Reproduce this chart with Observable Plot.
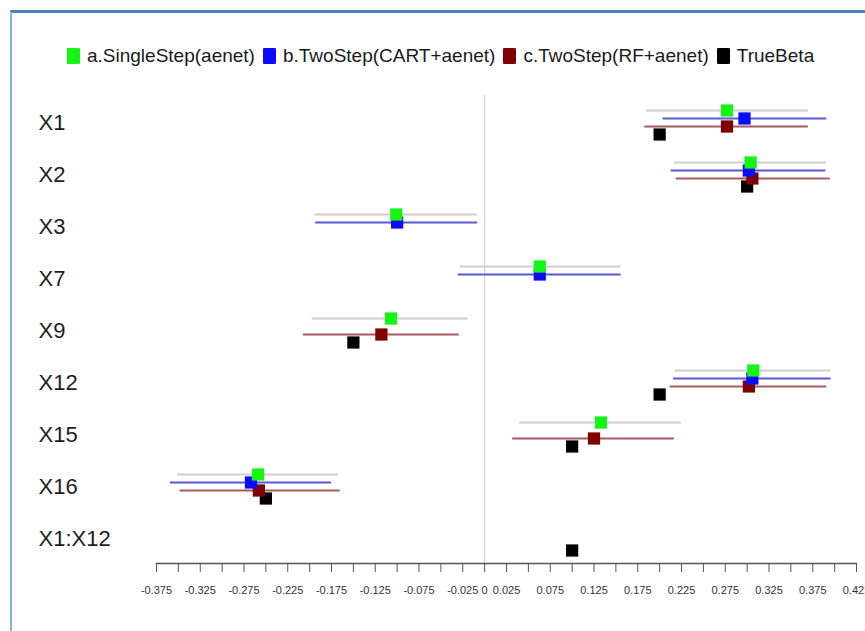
<!DOCTYPE html>
<html>
<head>
<meta charset="utf-8">
<script src="https://cdn.jsdelivr.net/npm/d3@7"></script>
<script src="https://cdn.jsdelivr.net/npm/@observablehq/plot@0.6"></script>
<style>
  html, body { margin: 0; padding: 0; background: #fff; }
  body { width: 865px; height: 631px; overflow: hidden; position: relative; font-family: "Liberation Sans", Arial, sans-serif; }
  #frame { position: absolute; left: 10px; top: 10px; width: 870px; height: 640px;
           border-top: 3px solid #4f81bd; border-left: 2px solid #8db0dc; }
  #legend { position: absolute; left: 67px; top: 45px; display: flex; align-items: center;
            font-size: 19px; color: #1a1a1a; white-space: nowrap; }
  .item { display: flex; align-items: center; margin-right: 8px; }
  .sw { width: 13px; height: 16px; margin-right: 7px; border-radius: 1px; }
  #chart { position: absolute; left: 0; top: 80px; }
  #chart svg { display: block; }
</style>
</head>
<body>
<div id="frame"></div>
<div id="legend"></div>
<div id="chart"></div>
<script>
// ---- data ----
const variables = ["X1", "X2", "X3", "X7", "X9", "X12", "X15", "X16", "X1:X12"];

const methodNames = ["a.SingleStep(aenet)", "b.TwoStep(CART+aenet)", "c.TwoStep(RF+aenet)", "TrueBeta"];

// a.SingleStep(aenet)
const aEst = [0.277, 0.304, -0.101, 0.063, -0.107, 0.307, 0.133, -0.259, null];
const aLo  = [0.185, 0.217, -0.194, -0.028, -0.197, 0.218, 0.040, -0.351, null];
const aHi  = [0.370, 0.391, -0.008, 0.156, -0.019, 0.396, 0.225, -0.167, null];

// b.TwoStep(CART+aenet)
const bEst = [0.297, 0.302, -0.100, 0.063, null, 0.306, null, -0.267, null];
const bLo  = [0.204, 0.213, -0.193, -0.030, null, 0.216, null, -0.359, null];
const bHi  = [0.391, 0.390, -0.008, 0.156, null, 0.396, null, -0.175, null];

// c.TwoStep(RF+aenet)
const cEst = [0.277, 0.306, null, null, -0.118, 0.302, 0.125, -0.258, null];
const cLo  = [0.183, 0.219, null, null, -0.207, 0.212, 0.032, -0.348, null];
const cHi  = [0.370, 0.395, null, null, -0.029, 0.391, 0.217, -0.165, null];

// TrueBeta
const trueBeta = [0.2, 0.3, null, null, -0.15, 0.2, 0.1, -0.25, 0.1];

const xTickLabels = ["-0.375", "-0.325", "-0.275", "-0.225", "-0.175", "-0.125", "-0.075", "-0.025",
                     "0", "0.025", "0.075", "0.125", "0.175", "0.225", "0.275", "0.325", "0.375", "0.425"];

// ---- build tables ----
function rows(est, lo, hi) {
  return variables.map((v, i) => ({variable: v, est: est[i], lo: lo ? lo[i] : null, hi: hi ? hi[i] : null}))
                  .filter(d => d.est != null);
}
const series = [
  {name: methodNames[0], data: rows(aEst, aLo, aHi), line: "#cdcdcd", fill: "#14f514", dy: -12},
  {name: methodNames[1], data: rows(bEst, bLo, bHi), line: "#5858d8", fill: "#0a0aff", dy: -4},
  {name: methodNames[2], data: rows(cEst, cLo, cHi), line: "#a45c5c", fill: "#800000", dy: 4},
  {name: methodNames[3], data: rows(trueBeta), line: null, fill: "#000000", dy: 12}
];

// ---- legend ----
const legend = document.getElementById("legend");
series.forEach(s => {
  const it = document.createElement("div"); it.className = "item";
  const sw = document.createElement("div"); sw.className = "sw"; sw.style.background = s.fill;
  const tx = document.createElement("span"); tx.textContent = s.name;
  it.appendChild(sw); it.appendChild(tx); legend.appendChild(it);
});

// ---- ticks ----
const xTicks = d3.range(33).map(i => +(-0.375 + i * 0.025).toFixed(3));
const labelSet = new Set(xTickLabels.map(s => (+s).toFixed(3)));

const marks = [];
marks.push(Plot.ruleX([0], {stroke: "#d2d2d2", strokeWidth: 1.2}));
series.filter(s => s.line).forEach(s => {
  marks.push(Plot.ruleY(s.data, {y: "variable", x1: "lo", x2: "hi", stroke: s.line, strokeWidth: 2, dy: s.dy}));
});
// squares: black, brown, blue, green (green on top)
[3, 2, 1, 0].forEach(k => {
  const s = series[k];
  marks.push(Plot.dot(s.data, {x: "est", y: "variable", symbol: "square", r: 6.9, fill: s.fill, stroke: "none", dy: s.dy}));
});
marks.push(Plot.frame({anchor: "bottom", stroke: "#555", strokeWidth: 1.5}));
marks.push(Plot.axisX({ticks: xTicks, tickSize: 9, tickPadding: 14, stroke: "#555",
  tickFormat: d => labelSet.has((+d).toFixed(3)) ? String(+d.toFixed(3)) : "",
  fontSize: 11, fill: "#333"}));
marks.push(Plot.axisY({tickSize: 0, tickPadding: 118, textAnchor: "start", fontSize: 22, fill: "#1e1e1e"}));

const chart = Plot.plot({
  width: 865,
  height: 551,
  marginLeft: 156,
  marginRight: 9,
  marginTop: 15,
  marginBottom: 68,
  insetTop: 24,
  insetBottom: 23,
  style: {fontFamily: "'Liberation Sans', Arial, sans-serif", background: "transparent"},
  x: {domain: [-0.375, 0.425], label: null},
  y: {type: "point", domain: variables, padding: 0, label: null},
  marks
});
document.getElementById("chart").appendChild(chart);
</script>
</body>
</html>
